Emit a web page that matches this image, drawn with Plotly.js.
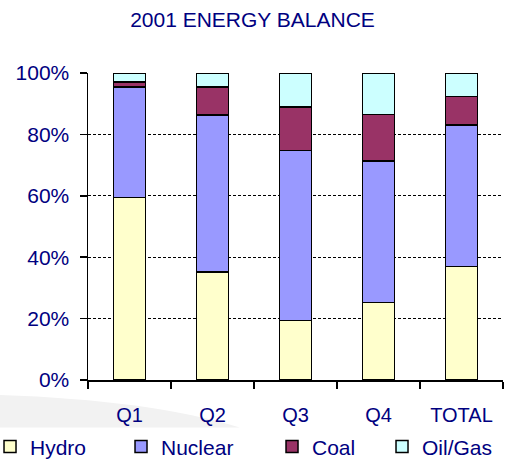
<!DOCTYPE html>
<html>
<head>
<meta charset="utf-8">
<script src="https://cdn.plot.ly/plotly-3.0.1.min.js"></script>
<style>html,body{margin:0;padding:0;background:#fff;}#chart{width:505px;height:462px;}</style>
</head>
<body>
<div id="chart"></div>
<script>
var categories = ['Q1', 'Q2', 'Q3', 'Q4', 'TOTAL'];
var hydro   = [59.5, 35.1, 19.4, 25.3, 37.0];
var nuclear = [36.0, 51.2, 55.3, 46.1, 46.1];
var coal    = [1.6, 9.2, 14.3, 15.1, 9.2];
var oilGas  = [2.9, 4.5, 11.0, 13.5, 7.7];
var yTickVals = [0, 20, 40, 60, 80, 100];
var yTickText = ['0%', '20%', '40%', '60%', '80%', '100%'];

var navy = '#000080';
var font = 'Arial, "Liberation Sans", sans-serif';

function mk(name, vals, color, lw) {
  return {
    type: 'bar', name: name, x: categories, y: vals,
    marker: {color: color, line: {color: '#000', width: 1.5}},
    legendwidth: lw,
    hoverinfo: 'y+name'
  };
}

var data = [
  mk('Hydro', hydro, '#FFFFCC', 86),
  mk('Nuclear', nuclear, '#9999FF', 106),
  mk('Coal', coal, '#993366', 65),
  mk('Oil/Gas', oilGas, '#CCFFFF', 70)
];

var layout = {
  width: 505, height: 462,
  margin: {l: 88, r: 2, t: 73, b: 82, autoexpand: false},
  paper_bgcolor: '#fff', plot_bgcolor: 'rgba(0,0,0,0)',
  barmode: 'stack', bargap: 0.61,
  font: {family: font, color: navy, size: 20},
  title: {text: '2001 ENERGY BALANCE', font: {size: 21, color: navy}, x: 0.5, xanchor: 'center', y: 0.958, yref: 'container', yanchor: 'middle'},
  xaxis: {
    type: 'category', tickson: 'boundaries', ticks: 'outside', ticklen: 7, tickcolor: '#000', tickwidth: 1.5,
    showline: true, linecolor: '#000', linewidth: 1.5, showgrid: false,
    tickfont: {size: 20, color: navy}, ticklabelstandoff: 16, range: [-0.5, 4.5], fixedrange: true
  },
  yaxis: {
    range: [0, 100], tickvals: yTickVals, ticktext: yTickText,
    ticks: 'outside', ticklen: 7, tickcolor: '#000', tickwidth: 1.5,
    showline: true, linecolor: '#000', linewidth: 1.5,
    showgrid: true, gridcolor: '#000', griddash: '3px,2px', gridwidth: 1,
    zeroline: false, tickfont: {size: 21, color: navy}, ticklabelstandoff: 6, fixedrange: true
  },
  legend: {
    orientation: 'h', x: -0.2361, xanchor: 'left', xref: 'paper', y: -0.218, yref: 'paper', yanchor: 'middle',
    font: {size: 21, color: navy}, traceorder: 'normal', itemwidth: 30,
    bgcolor: 'rgba(0,0,0,0)'
  },
  shapes: [{
    type: 'path', xref: 'paper', yref: 'paper', layer: 'below',
    path: 'M -0.212 -0.049 Q 0.15 -0.065 0.366 -0.155 L -0.212 -0.155 Z',
    fillcolor: '#f2f2f2', line: {width: 0}
  }],
  showlegend: true
};

Plotly.newPlot('chart', data, layout, {displayModeBar: false, staticPlot: true});
</script>
</body>
</html>
